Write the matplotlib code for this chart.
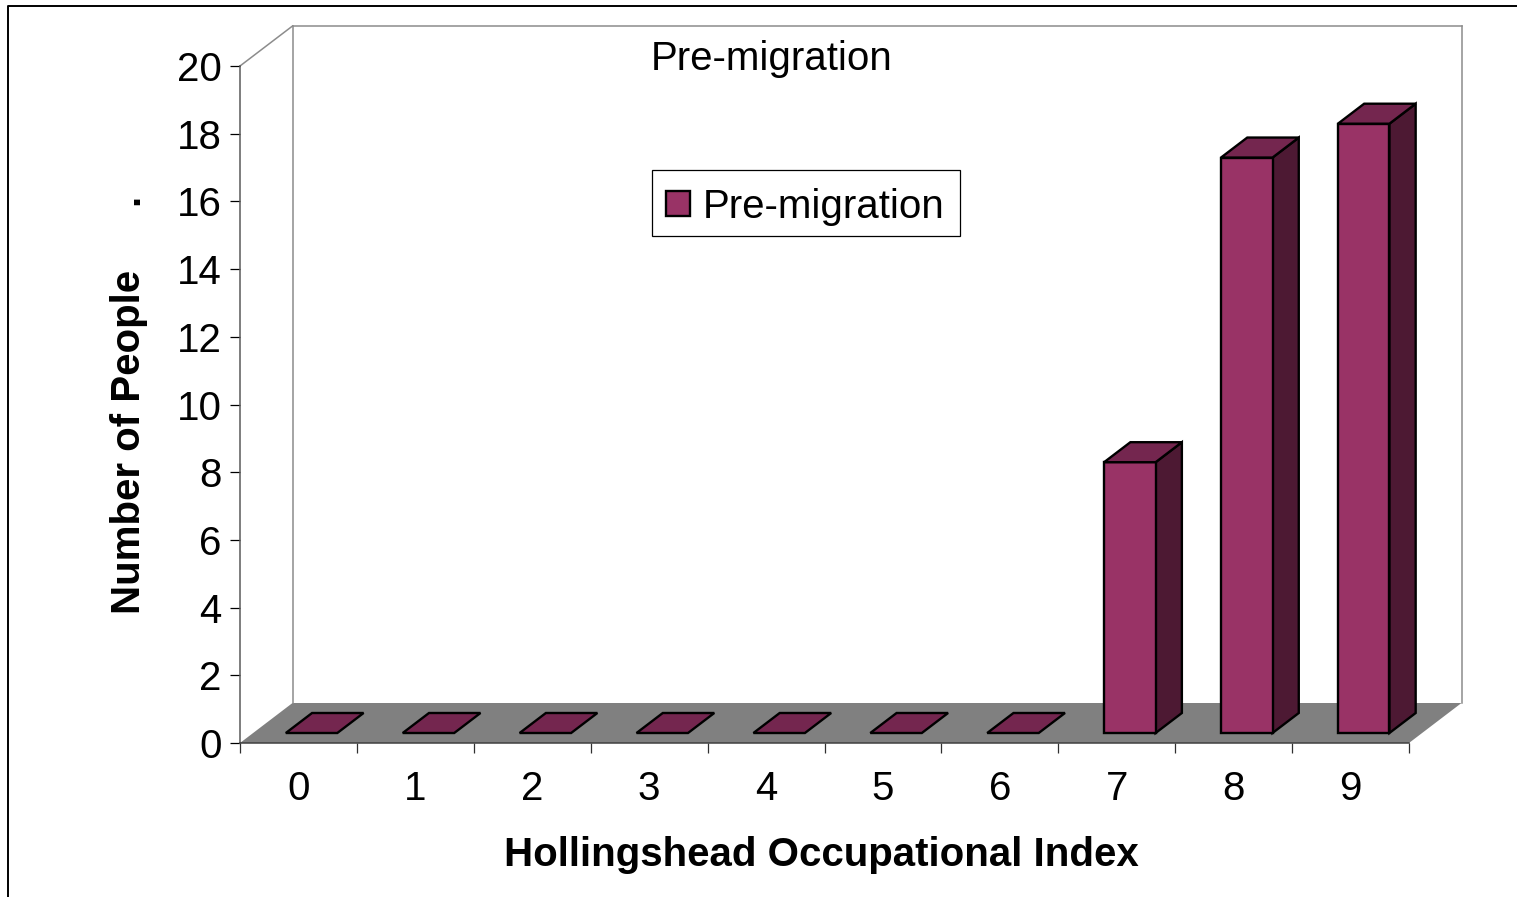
import matplotlib
matplotlib.use("Agg")
import matplotlib.pyplot as plt
from matplotlib.patches import Polygon, Patch, Rectangle
from matplotlib.lines import Line2D
import numpy as np

plt.rcParams['font.family'] = ['Liberation Sans', 'DejaVu Sans']

categories = ['0', '1', '2', '3', '4', '5', '6', '7', '8', '9']
people = [0, 0, 0, 0, 0, 0, 0, 8, 17, 18]
y_ticks = list(range(0, 21, 2))
series_name = 'Pre-migration'
title_text = 'Pre-migration'
x_label = 'Hollingshead Occupational Index'
y_label = 'Number of People'

FRONT = '#993366'
TOP = '#74264f'
SIDE = '#4d1933'
FLOOR = '#808080'
WALL = '#8c8c8c'
FS = 29

W, H = 1517, 897
fig = plt.figure(figsize=(W / 100, H / 100), dpi=100, facecolor='white')
ax = fig.add_axes([240 / W, (H - 743) / H, 1169 / W, 677 / H])
ax.set_xlim(0, len(categories))
ax.set_ylim(0, 20)
ax.patch.set_visible(False)

# oblique depth expressed in data units of the two axes
DX = 52.5 / 116.9
DY = 40 / 33.85


def proj(x, y, d):
    return (x + DX * d, y + DY * d)


def face(points, color, lw=1.7, ec='black', z=3):
    ax.add_patch(Polygon([proj(*p) for p in points], closed=True, facecolor=color,
                         edgecolor=ec, linewidth=lw, joinstyle='miter',
                         clip_on=False, zorder=z))


# floor and walls
face([(0, 0, 0), (len(categories), 0, 0), (len(categories), 0, 1), (0, 0, 1)], FLOOR, lw=0, ec='none', z=1)
for seg in [[(0, 0, 1), (0, 20, 1)],
            [(0, 20, 1), (len(categories), 20, 1)],
            [(len(categories), 20, 1), (len(categories), 0, 1)],
            [(0, 20, 0), (0, 20, 1)]]:
    xs, ys = zip(*[proj(*p) for p in seg])
    ax.plot(xs, ys, color=WALL, lw=1.1, clip_on=False, zorder=1.5)

# bars
BAR_W = 51.5 / 116.9
for i, v in enumerate(people):
    x0 = i + 0.5 - BAR_W / 2
    x1 = x0 + BAR_W
    d0, d1 = 0.25, 0.75
    z = 3 + i * 0.01
    if v > 0:
        face([(x1, 0, d0), (x1, 0, d1), (x1, v, d1), (x1, v, d0)], SIDE, z=z)
        face([(x0, 0, d0), (x1, 0, d0), (x1, v, d0), (x0, v, d0)], FRONT, z=z)
    face([(x0, v, d0), (x1, v, d0), (x1, v, d1), (x0, v, d1)], TOP, z=z)

# axes
for s in ('top', 'right'):
    ax.spines[s].set_visible(False)
ax.spines['left'].set_color('#5a5a5a')
ax.spines['left'].set_linewidth(1.1)
ax.spines['bottom'].set_color('#404040')
ax.spines['bottom'].set_linewidth(1.1)
ax.set_yticks(y_ticks)
ax.set_yticklabels([str(t) for t in y_ticks], fontsize=FS)
ax.tick_params(axis='y', length=7.2, width=0.9, pad=6, color='black')
ax.set_xticks(np.arange(len(categories) + 1))
ax.set_xticklabels([])
ax.tick_params(axis='x', which='major', length=7.2, width=0.9, color='#303030')
ax.set_xticks(np.arange(len(categories)) + 0.5, minor=True)
ax.set_xticklabels(categories, minor=True, fontsize=FS)
ax.tick_params(axis='x', which='minor', length=0, pad=19.5)

ax.set_title(title_text, fontsize=FS, x=(772 - 240) / 1169, y=(743 - 70) / 677, pad=0, va='baseline')
fig.text(821.5 / W, 1 - 855 / H, x_label, fontsize=FS, fontweight='bold', ha='center', va='center')
fig.text(129 / W, 1 - 441.5 / H, y_label, fontsize=FS, fontweight='bold', ha='center', va='center', rotation=90)
fig.text(127 / W, 1 - 194 / H, '.', fontsize=FS, fontweight='bold', ha='right', va='center', rotation=90, rotation_mode='anchor')

leg = ax.legend(handles=[Patch(facecolor=FRONT, edgecolor='black', linewidth=1.7, label=series_name)],
                loc='center', bbox_to_anchor=(805 / W, 1 - 206.5 / H), bbox_transform=fig.transFigure,
                fontsize=FS, frameon=False,
                handlelength=0.6, handleheight=0.6, handletextpad=0.32, borderpad=0.38, borderaxespad=0)
leg.set_zorder(10)
# legend frame, drawn apart so that its content can sit low in the box as in the reference
fig.add_artist(Rectangle((651.5 / W, 1 - 236 / H), 308 / W, 66 / H, transform=fig.transFigure,
                         facecolor='none', edgecolor='black', linewidth=0.9))

# chart-area border, open at right and bottom as in the crop
fig.add_artist(Line2D([7.5 / W, 7.5 / W, 1], [0, 1 - 6.5 / H, 1 - 6.5 / H], color='black', lw=1.4))

fig.savefig('out.png', dpi=100, facecolor='white')
